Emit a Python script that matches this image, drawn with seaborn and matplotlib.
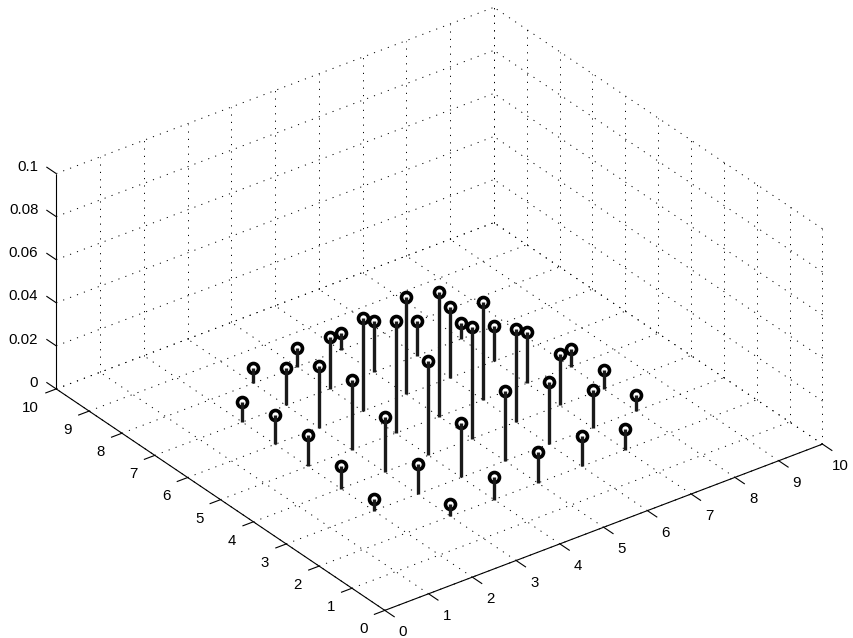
import numpy as np
import matplotlib
matplotlib.use("Agg")
import matplotlib.pyplot as plt
from mpl_toolkits.mplot3d import proj3d
import seaborn as sns

# stem positions and heights
stem_x = [3, 2, 2, 3, 4, 2, 3, 4, 5, 2, 3, 4, 5, 2, 3, 4, 5, 6, 3, 4, 5,
          6, 3, 7, 4, 5, 6, 4, 7, 5, 6, 7, 5, 6, 7, 8, 6, 7, 8, 7, 8]
stem_y = [8, 7, 6, 7, 8, 5, 6, 7, 8, 4, 5, 6, 7, 3, 4, 5, 6, 7, 3, 4, 5,
          6, 2, 7, 3, 4, 5, 2, 6, 3, 4, 5, 2, 3, 4, 5, 2, 3, 4, 2, 3]
stem_z = [0.0073, 0.0093, 0.0138, 0.0176, 0.0088, 0.0144, 0.0286, 0.0242,
          0.0079, 0.0106, 0.0322, 0.0431, 0.0236, 0.0054, 0.0253, 0.0520,
          0.0454, 0.0162, 0.0141, 0.0437, 0.0580, 0.0329, 0.0056, 0.0073,
          0.0255, 0.0519, 0.0454, 0.0105, 0.0161, 0.0324, 0.0431, 0.0236,
          0.0145, 0.0287, 0.0241, 0.0080, 0.0140, 0.0176, 0.0089, 0.0095,
          0.0072]

xy_ticks = list(range(0, 11))
z_ticks = [0, 0.02, 0.04, 0.06, 0.08, 0.1]
z_tick_labels = ["0", "0.02", "0.04", "0.06", "0.08", "0.1"]

sns.set_theme(style="white")
plt.rcParams["font.family"] = ["Liberation Sans", "DejaVu Sans"]

fig = plt.figure(figsize=(8.54, 6.38), dpi=100)
ax = fig.add_axes([0.1493, 0.0271, 0.7111, 0.9519], projection="3d", computed_zorder=False)
ax.set_proj_type("ortho")
ax.view_init(elev=30.4, azim=-126.9)
ax.set_box_aspect((548, 548, 250), zoom=1.3)
ax.set_axis_off()

x_max, y_max = xy_ticks[-1], xy_ticks[-1]
z_max = z_ticks[-1]

# dotted grid on the floor and the two back walls
grid_kw = dict(color="black", lw=0.7, linestyle=(0, (1.2, 6.4)), zorder=1, clip_on=False)
for t in xy_ticks:
    ax.plot([t, t], [0, y_max], [0, 0], **grid_kw)
    ax.plot([0, x_max], [t, t], [0, 0], **grid_kw)
    ax.plot([t, t], [y_max, y_max], [0, z_max], **grid_kw)
    ax.plot([x_max, x_max], [t, t], [0, z_max], **grid_kw)
for z in z_ticks:
    ax.plot([0, x_max], [y_max, y_max], [z, z], **grid_kw)
    ax.plot([x_max, x_max], [0, y_max], [z, z], **grid_kw)

# solid axis lines with ticks
axis_kw = dict(color="black", lw=0.8, zorder=2, solid_capstyle="butt", clip_on=False)
ax.plot([0, x_max], [0, 0], [0, 0], **axis_kw)
ax.plot([0, 0], [0, y_max], [0, 0], **axis_kw)
ax.plot([0, 0], [y_max, y_max], [0, z_max], **axis_kw)
for t in xy_ticks:
    ax.plot([t, t], [0, -0.3], [0, 0], **axis_kw)
    ax.plot([0, -0.25], [t, t], [0, 0], **axis_kw)
for z in z_ticks:
    ax.plot([0, 0], [y_max, y_max + 0.3], [z, z], **axis_kw)

# stems, the line runs over the white middle of the ring
markers, stems, base = ax.stem(stem_x, stem_y, stem_z, linefmt="k-", markerfmt="o", basefmt=" ")
base.set_visible(False)
stems.set_linewidth(2.4)
stems.set_capstyle("butt")
stems.set_zorder(4)
stems.set_clip_on(False)
markers.set_zorder(3)
markers.set_clip_on(False)
markers.set_markersize(7.2)
markers.set_markerfacecolor("white")
markers.set_markeredgecolor("black")
markers.set_markeredgewidth(2.6)

ax.set_xlim(0, x_max, view_margin=0)
ax.set_ylim(0, y_max, view_margin=0)
ax.set_zlim(0, z_max, view_margin=0)


def tick_label(x, y, z, text, ha):
    # project once the limits are final, so the label is an ordinary 2D text
    px, py, _ = proj3d.proj_transform(x, y, z, ax.get_proj())
    ax.text2D(px, py, text, transform=ax.transData, ha=ha, va="center",
              fontsize=10.8, color="black")


for t in xy_ticks:
    tick_label(t, -0.55, -0.0046, str(t), "center")
    tick_label(-0.39, t, -0.0058, str(t), "right")
for z, lab in zip(z_ticks, z_tick_labels):
    tick_label(0, y_max + 0.547, z - 0.0027, lab, "right")

fig.savefig("out.png", dpi=100, facecolor="white")
